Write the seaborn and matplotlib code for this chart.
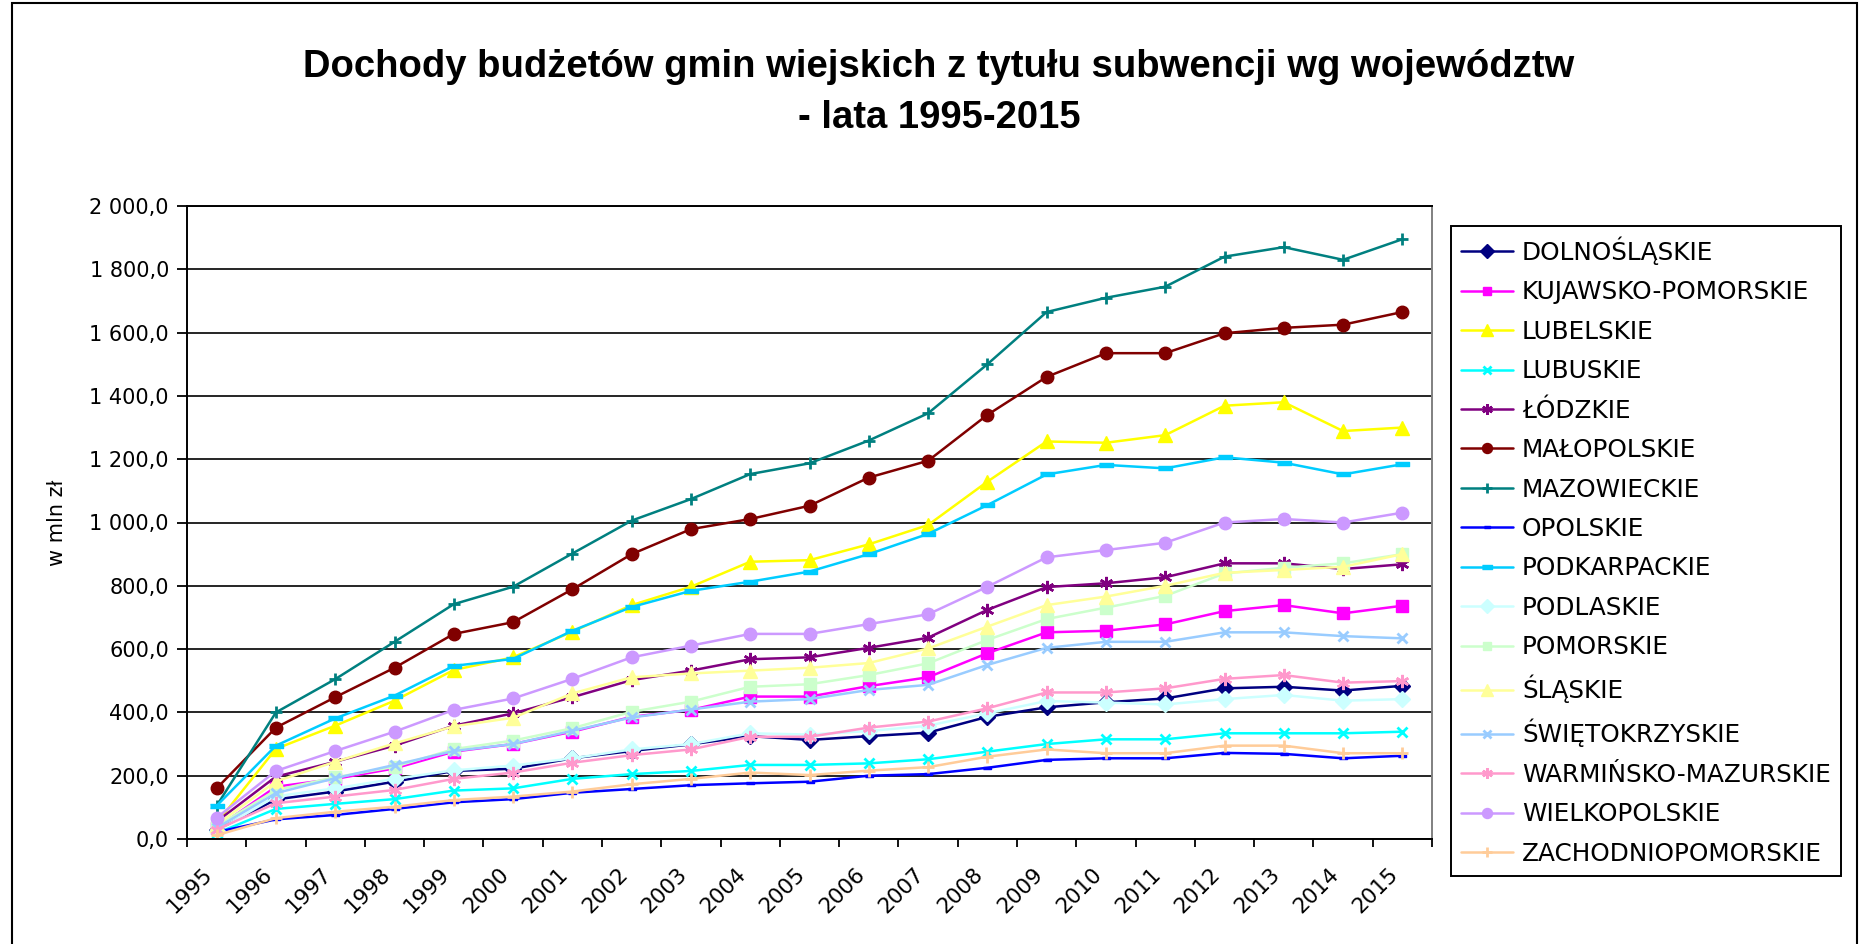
import matplotlib
matplotlib.use("Agg")
import matplotlib.pyplot as plt
import matplotlib.ticker as mticker
import seaborn as sns
import pandas as pd
import numpy as np
from matplotlib.patches import Rectangle

years = [str(y) for y in range(1995, 2016)]

dolnoslaskie = [28, 125, 150, 181, 215, 222, 255, 278, 299, 325, 313, 325, 336, 386, 416, 432, 444, 476, 481, 469, 484]
kujawsko_pomorskie = [35, 165, 190, 223, 276, 300, 339, 386, 408, 450, 450, 483, 511, 587, 653, 658, 678, 720, 739, 713, 737]
lubelskie = [50, 285, 358, 437, 534, 574, 655, 739, 797, 876, 881, 931, 992, 1129, 1256, 1252, 1276, 1369, 1380, 1289, 1300]
lubuskie = [18, 95, 111, 126, 153, 160, 190, 205, 215, 234, 234, 239, 252, 276, 300, 315, 315, 334, 334, 334, 339]
lodzkie = [55, 197, 244, 295, 358, 397, 448, 502, 532, 568, 574, 604, 636, 724, 796, 808, 827, 871, 871, 853, 868]
malopolskie = [160, 352, 448, 541, 648, 685, 789, 900, 979, 1011, 1053, 1142, 1195, 1340, 1460, 1535, 1535, 1598, 1615, 1625, 1665]
mazowieckie = [105, 400, 505, 623, 742, 797, 902, 1006, 1074, 1153, 1187, 1259, 1345, 1500, 1665, 1710, 1745, 1840, 1870, 1830, 1895]
opolskie = [22, 62, 76, 95, 116, 126, 146, 158, 170, 176, 181, 200, 205, 225, 250, 255, 255, 272, 269, 255, 263]
podkarpackie = [105, 295, 381, 453, 547, 569, 658, 733, 784, 813, 845, 900, 964, 1055, 1152, 1182, 1171, 1206, 1189, 1152, 1184]
podlaskie = [25, 135, 160, 190, 217, 232, 255, 283, 300, 334, 330, 341, 358, 397, 436, 431, 425, 442, 455, 437, 442]
pomorskie = [40, 155, 195, 228, 284, 311, 350, 402, 434, 481, 489, 518, 555, 629, 695, 731, 768, 839, 857, 871, 900]
slaskie = [45, 182, 244, 302, 356, 383, 460, 511, 523, 532, 541, 556, 602, 671, 739, 766, 800, 841, 850, 860, 900]
swietokrzyskie = [35, 145, 192, 234, 278, 300, 342, 384, 409, 434, 442, 471, 487, 550, 604, 623, 623, 653, 653, 641, 634]
warminsko_mazurskie = [30, 113, 134, 155, 190, 210, 241, 265, 283, 323, 323, 352, 371, 413, 463, 463, 476, 506, 518, 494, 499]
wielkopolskie = [67, 215, 278, 339, 408, 444, 506, 574, 611, 648, 648, 679, 710, 797, 890, 913, 936, 1000, 1011, 1000, 1031]
zachodniopomorskie = [12, 66, 86, 102, 123, 134, 150, 173, 190, 210, 202, 216, 227, 260, 283, 271, 271, 295, 295, 271, 271]

names = ["DOLNOŚLĄSKIE", "KUJAWSKO-POMORSKIE", "LUBELSKIE", "LUBUSKIE", "ŁÓDZKIE",
         "MAŁOPOLSKIE", "MAZOWIECKIE", "OPOLSKIE", "PODKARPACKIE", "PODLASKIE",
         "POMORSKIE", "ŚLĄSKIE", "ŚWIĘTOKRZYSKIE", "WARMIŃSKO-MAZURSKIE",
         "WIELKOPOLSKIE", "ZACHODNIOPOMORSKIE"]
values = [dolnoslaskie, kujawsko_pomorskie, lubelskie, lubuskie, lodzkie,
          malopolskie, mazowieckie, opolskie, podkarpackie, podlaskie,
          pomorskie, slaskie, swietokrzyskie, warminsko_mazurskie,
          wielkopolskie, zachodniopomorskie]

colors = ["#000080", "#FF00FF", "#FFFF00", "#00FFFF", "#800080",
          "#800000", "#008080", "#0000FF", "#00CCFF", "#CCFFFF",
          "#CCFFCC", "#FFFF99", "#99CCFF", "#FF99CC", "#CC99FF", "#FFCC99"]

small_dash = [(-1, -0.35), (1, -0.35), (1, 0.35), (-1, 0.35)]
wide_dash = [(-1, -0.3), (1, -0.3), (1, 0.3), (-1, 0.3)]
asterisk = (6, 2, 0)
styles = [("D", 8.5, 1), ("s", 8, 1), ("^", 10.5, 1), ("x", 7.5, 2.0), (asterisk, 9.5, 1.8),
          ("o", 9, 1), ("+", 8.5, 2.0), (small_dash, 6, 1), (wide_dash, 9.5, 1), ("D", 8.5, 1),
          ("s", 8, 1), ("^", 10.5, 1), ("x", 7.5, 2.0), (asterisk, 9.5, 1.8), ("o", 9, 1), ("+", 8.5, 2.0)]

sns.set_theme(style="white")
plt.rcParams["font.family"] = ["DejaVu Sans"]
for key in ["text.color", "axes.labelcolor", "xtick.color", "ytick.color"]:
    plt.rcParams[key] = "black"

fig = plt.figure(figsize=(18.61, 9.44), dpi=100)
ax = fig.add_axes([187 / 1861, 1 - 839 / 944, (1432 - 187) / 1861, (839 - 206) / 944])

x_idx = np.arange(len(years))
for name, vals, col, (mk, ms, mew) in zip(names, values, colors, styles):
    df = pd.DataFrame({"x": x_idx, "y": vals})
    sns.lineplot(data=df, x="x", y="y", ax=ax, color=col, linewidth=1.8,
                 marker=mk, markersize=ms, markeredgewidth=mew,
                 markeredgecolor=col, markerfacecolor=col, label=name)

ax.set_xlim(-0.5, len(years) - 0.5)
ax.set_ylim(0, 2000)
ax.yaxis.set_major_locator(mticker.MultipleLocator(200))
ax.yaxis.set_major_formatter(mticker.FuncFormatter(
    lambda v, p: f"{v:,.1f}".replace(",", " ").replace(".", ",")))
ax.grid(axis="y", color="black", linewidth=1.2)
ax.grid(axis="x", visible=False)
ax.set_axisbelow(True)

ax.set_xticks(np.arange(-0.5, len(years), 1.0))
ax.set_xticklabels([])
ax.set_xticks(x_idx - 0.24, minor=True)
ax.set_xticklabels(years, minor=True, rotation=45, ha="right", va="top",
                   rotation_mode="anchor", fontsize=15.5)
ax.tick_params(axis="x", which="major", direction="out", length=6, width=1.3,
               color="black", bottom=True)
ax.tick_params(axis="x", which="minor", length=0, pad=18)
ax.tick_params(axis="y", which="major", direction="out", length=7, width=1.3,
               color="black", left=True, labelsize=15, pad=6)

for s in ["left", "bottom", "top"]:
    ax.spines[s].set_color("black")
    ax.spines[s].set_linewidth(1.4)
ax.spines["right"].set_color("#808080")
ax.spines["right"].set_linewidth(1.4)

ax.set_xlabel("")
ax.set_ylabel("w mln zł", fontsize=15, labelpad=16)

leg = ax.legend(loc="upper left", bbox_to_anchor=(1451 / 1861, 1 - 226 / 944),
                bbox_transform=fig.transFigure, borderaxespad=0, frameon=True,
                fancybox=False, shadow=False, fontsize=17.8, handlelength=2.1,
                handletextpad=0.35, labelspacing=0.625, borderpad=0.42,
                markerscale=0.8)
leg.get_frame().set_edgecolor("black")
leg.get_frame().set_linewidth(1.4)
leg.get_frame().set_alpha(1)

fig.text(939 / 1861, 1 - 77 / 944,
         "Dochody budżetów gmin wiejskich z tytułu subwencji wg województw",
         ha="center", va="baseline", fontsize=27.5, fontweight="bold",
         family=["Liberation Sans", "DejaVu Sans"])
fig.text(939 / 1861, 1 - 128 / 944, "- lata 1995-2015",
         ha="center", va="baseline", fontsize=27.5, fontweight="bold",
         family=["Liberation Sans", "DejaVu Sans"])

fig.patches.append(Rectangle((12 / 1861, -0.01), (1857 - 12) / 1861, 1.0 + 0.01 - 3 / 944,
                             transform=fig.transFigure, fill=False,
                             edgecolor="black", linewidth=1.5))

fig.savefig("out.png", dpi=100)
